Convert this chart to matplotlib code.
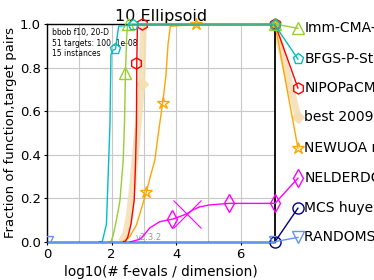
import matplotlib
matplotlib.use("Agg")
import matplotlib.pyplot as plt

# ---- data (log10 of evals/dim, fraction of pairs) ----
imm_x = [1.90, 1.98, 2.05, 2.15, 2.26, 2.36, 2.40, 2.43, 2.47, 2.50, 2.60, 7.06]
imm_y = [0, 0, 0.03, 0.10, 0.19, 0.375, 0.55, 0.776, 0.95, 0.995, 1.0, 1.0]
imm_mx = [2.43, 2.51, 7.06]
imm_my = [0.776, 1.0, 1.0]

bfgs_x = [1.60, 1.71, 1.84, 1.95, 1.98, 2.05, 2.12, 2.18, 2.22, 2.60, 7.06]
bfgs_y = [0, 0, 0.08, 0.54, 0.86, 0.88, 0.884, 0.95, 0.99, 0.995, 0.995]
bfgs_mx = [2.12, 2.67, 7.06]
bfgs_my = [0.884, 0.995, 0.995]

nipo_x = [2.35, 2.42, 2.50, 2.60, 2.70, 2.74, 2.77, 2.78, 2.80, 2.85, 7.06]
nipo_y = [0, 0, 0.02, 0.08, 0.19, 0.35, 0.54, 0.82, 0.99, 1.0, 1.0]
nipo_mx = [2.77, 2.93, 7.06]
nipo_my = [0.819, 1.0, 1.0]

best_x = [2.30, 2.45, 2.55, 2.65, 2.75, 2.85, 2.93, 2.96, 2.98, 3.00]
best_y = [0, 0.04, 0.12, 0.25, 0.42, 0.58, 0.72, 0.85, 0.97, 1.0]
best_mx = [2.93, 7.06]
best_my = [0.724, 1.0]

newu_x = [2.30, 2.35, 2.55, 2.77, 2.93, 3.08, 3.20, 3.34, 3.46, 3.58, 3.68, 3.75, 3.82, 4.60, 7.06]
newu_y = [0, 0, 0.02, 0.077, 0.155, 0.23, 0.30, 0.375, 0.51, 0.636, 0.76, 0.91, 0.99, 0.997, 1.0]
newu_mx = [3.08, 3.58, 4.60, 7.06]
newu_my = [0.23, 0.636, 1.0, 1.0]

neld_x = [2.55, 2.60, 2.87, 3.00, 3.18, 3.49, 3.87, 4.10, 4.32, 4.50, 4.73, 5.04, 5.64, 7.06]
neld_y = [0, 0, 0.011, 0.03, 0.063, 0.092, 0.103, 0.115, 0.127, 0.145, 0.16, 0.169, 0.176, 0.176]
neld_mx = [3.87, 5.64, 7.06]
neld_my = [0.103, 0.176, 0.176]
neld_end = (4.32, 0.127)

mcs_x = [0, 7.06]
mcs_y = [0, 0]
rand_x = [0, 7.06]
rand_y = [0, 0]

names = ["Imm-CMA-ES", "BFGS-P-StPt", "NIPOPaCMA", "best 2009",
         "NEWUOA ros", "NELDERDOERR", "MCS huyer", "RANDOMSEARCH auger"]
label_y = [0.98, 0.839, 0.706, 0.572, 0.43, 0.292, 0.154, 0.02]

fig = plt.figure(figsize=(3.74, 2.80), dpi=100)
ax = fig.add_axes([47/374, 1-241.7/280, (275-47)/374, (241.7-24)/280])

XMAX = 7.06
LX = 7.77
styles = [
    dict(color="#9acd32", marker="^", ms=8),
    dict(color="#00bfbf", marker="p", ms=8),
    dict(color="#ff0000", marker="h", ms=8),
    dict(color="#f5deb3", marker="D", ms=6),
    dict(color="#ffa500", marker="*", ms=9),
    dict(color="#ff00ff", marker="d", ms=9),
    dict(color="#000080", marker="o", ms=8),
    dict(color="#6495ed", marker="v", ms=8),
]
curves = [
    (imm_x, imm_y, imm_mx, imm_my),
    (bfgs_x, bfgs_y, bfgs_mx, bfgs_my),
    (nipo_x, nipo_y, nipo_mx, nipo_my),
    (best_x, best_y, best_mx, best_my),
    (newu_x, newu_y, newu_mx, newu_my),
    (neld_x, neld_y, neld_mx, neld_my),
    (mcs_x, mcs_y, [7.06], [0.0]),
    (rand_x, rand_y, [0.0, 7.06], [0.0, 0.0]),
]
end_y = [1.0, 0.995, 1.0, 1.0, 1.0, 0.176, 0.0, 0.0]

order = [3, 5, 4, 2, 0, 1, 6, 7]
for k, i in enumerate(order):
    st = styles[i]
    x, y, mx, my = curves[i]
    lw = 5 if i == 3 else 1.0
    alpha = 0.85 if i == 3 else 1.0
    z = 2 if i == 3 else 3 + k * 0.1
    ax.plot(x, y, color=st["color"], lw=lw, alpha=alpha, zorder=z, clip_on=False,
            solid_capstyle="butt")
    mfc = st["color"] if i == 3 else "none"
    ax.plot(mx, my, ls="none", marker=st["marker"], ms=st["ms"], mfc=mfc,
            mec=st["color"], mew=1.0, zorder=z + 0.05, clip_on=(i == 7), alpha=alpha)
    # connector to label
    ax.plot([XMAX, LX], [end_y[i], label_y[i]], color=st["color"], lw=lw, alpha=alpha,
            zorder=z, clip_on=False)
    ax.plot([LX], [label_y[i]], ls="none", marker=st["marker"], ms=st["ms"], mfc=mfc,
            mec=st["color"], mew=1.0, clip_on=False, zorder=z + 0.05, alpha=alpha)
    ax.text(LX + 0.2, label_y[i], names[i], fontsize=10, va="center", ha="left",
            clip_on=False)

ax.plot([neld_end[0]], [neld_end[1]], ls="none", marker="x", ms=20, mew=0.8,
        color="#ff00ff", zorder=4)

ax.set_xlim(0, XMAX)
ax.set_ylim(0, 1.0)
ax.set_xticks([0, 2, 4, 6])
ax.set_xticks([1, 3, 5], minor=True)
ax.set_yticks([0, 0.2, 0.4, 0.6, 0.8, 1.0])
ax.tick_params(labelsize=9.5, length=2.5, pad=2)
ax.tick_params(which="minor", length=0)
ax.grid(True, which="both", color="#c8c8c8", lw=0.8)
ax.set_axisbelow(True)
for sp in ax.spines.values():
    sp.set_linewidth(1.0)
ax.spines["right"].set_linewidth(1.3)
ax.set_xlabel("log10(# f-evals / dimension)", fontsize=9.8, labelpad=3)
ax.set_ylabel("Fraction of function,target pairs", fontsize=9.5)
ax.yaxis.set_label_coords(-0.13, 0.5)
ax.set_title("10 Ellipsoid", fontsize=11.5, pad=2)

ax.text(0.02, 0.98, "bbob f10, 20-D\n51 targets: 100..1e-08\n15 instances",
        transform=ax.transAxes, fontsize=5.5, va="top", ha="left", linespacing=1.2)
ax.text(3.15, 0.02, "v2.3.2", fontsize=6, color="#999999", va="center", ha="center")

fig.savefig("out.png", dpi=100)
